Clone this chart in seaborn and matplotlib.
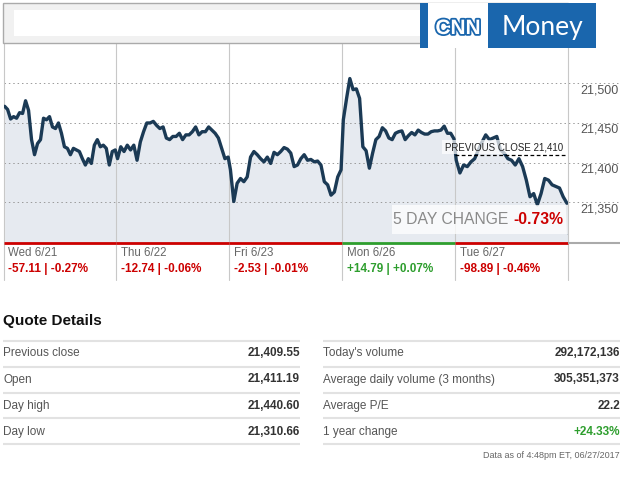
import numpy as np
import pandas as pd
import matplotlib
matplotlib.use("Agg")
import matplotlib.pyplot as plt
from matplotlib.patches import Rectangle
from matplotlib import patheffects
from matplotlib.transforms import blended_transform_factory, offset_copy
import seaborn as sns

# --- data ---
day_labels = ["Wed 6/21", "Thu 6/22", "Fri 6/23", "Mon 6/26", "Tue 6/27"]
day_changes = ["-57.11 | -0.27%", "-12.74 | -0.06%", "-2.53 | -0.01%", "+14.79 | +0.07%", "-98.89 | -0.46%"]
day_up = [False, False, False, True, False]

wed = [21471, 21467, 21455, 21458, 21456, 21463, 21462, 21478, 21466, 21429, 21410, 21424, 21429,
       21456, 21454, 21458, 21445, 21443, 21450, 21437, 21420, 21418, 21410, 21418, 21416, 21414,
       21405, 21397, 21405, 21399, 21422, 21429, 21420, 21422, 21418, 21397, 21414, 21416]
thu = [21405, 21420, 21414, 21422, 21416, 21422, 21403, 21426, 21439, 21450, 21450, 21452, 21447,
       21443, 21445, 21431, 21429, 21433, 21433, 21437, 21429, 21435, 21435, 21439, 21445, 21435,
       21439, 21439, 21445, 21441, 21437, 21431, 21418, 21405, 21407]
fri = [21391, 21351, 21374, 21380, 21376, 21382, 21407, 21414, 21410, 21405, 21401, 21407, 21399,
       21413, 21410, 21414, 21419, 21417, 21412, 21395, 21397, 21405, 21410, 21403, 21404, 21401,
       21402, 21397, 21376, 21372, 21359, 21363, 21382, 21391]
mon = [21454, 21481, 21506, 21492, 21493, 21481, 21420, 21415, 21393, 21412, 21429, 21433, 21444,
       21440, 21431, 21429, 21437, 21439, 21440, 21429, 21434, 21438, 21435, 21441, 21438, 21436,
       21436, 21439, 21440, 21440, 21441, 21446, 21437, 21437, 21430]
tue = [21403, 21387, 21397, 21395, 21401, 21405, 21416, 21426, 21435, 21429, 21431, 21433, 21416,
       21412, 21405, 21403, 21397, 21405, 21395, 21378, 21357, 21361, 21347, 21361, 21380, 21378,
       21372, 21370, 21368, 21357, 21349]
after_hours_close = 21310.66
previous_close = 21409.55
five_day_change = "-0.73%"

y_ticks = [21350, 21400, 21450, 21500]
y_tick_labels = ["21,350", "21,400", "21,450", "21,500"]
y_range = (21298.7, 21550.8)

quote_left_labels = ["Previous close", "Open", "Day high", "Day low"]
quote_left_values = ["21,409.55", "21,411.19", "21,440.60", "21,310.66"]
quote_right_labels = ["Today's volume", "Average daily volume (3 months)", "Average P/E", "1 year change"]
quote_right_values = ["292,172,136", "305,351,373", "22.2", "+24.33%"]
data_stamp = "Data as of 4:48pm ET, 06/27/2017"

RED = "#cc0000"
GREEN = "#2e9e2e"
NAVY = "#1b3a55"
FILL = "#e6eaf0"
BLUE = "#1a66ad"

sns.set_style("white")
plt.rcParams["font.family"] = ["Liberation Sans", "DejaVu Sans"]

W, H = 638, 483
fig = plt.figure(figsize=(W / 100, H / 100), dpi=100)


def px_box(x0, y0, x1, y1):
    return [x0 / W, 1 - y1 / H, (x1 - x0) / W, (y1 - y0) / H]


ax = fig.add_axes(px_box(3.5, 43, 568, 243), zorder=2)

frames = []
for i, prices in enumerate([wed, thu, fri, mon, tue]):
    frames.append(pd.DataFrame({"t": np.linspace(i + 0.01, i + 0.99, len(prices)), "price": prices}))
df = pd.concat(frames, ignore_index=True)
t_end = len(day_labels)

ylo, yhi = y_range
ax.fill_between(np.append(df["t"], t_end), np.append(df["price"], after_hours_close), ylo,
                color=FILL, lw=0, zorder=0.5)
sns.lineplot(data=df, x="t", y="price", color=NAVY, lw=2.4, estimator=None, ax=ax, zorder=4)
ax.plot([df["t"].iloc[-1], t_end], [df["price"].iloc[-1], after_hours_close], color="#9aa6b3", lw=1.6, zorder=3)

ax.set_xlim(0, t_end)
ax.set_ylim(ylo, yhi)
ax.set_xticks([])
ax.set_yticks([])
ax.set_xlabel("")
ax.set_ylabel("")
sns.despine(ax=ax, left=True, bottom=True)

# grid
x_px = 564.5
for v in y_ticks:
    ax.axhline(v, xmin=0, xmax=(618 - 3.5) / x_px, clip_on=False, color="#9a9a9a", lw=0.7,
               ls=(0, (1.5, 3)), zorder=1)
for d in range(t_end + 1):
    ax.axvline(d, ymin=-0.185, ymax=1, clip_on=False, color="#c8c8c8", lw=0.8, zorder=1)

ylab_tr = offset_copy(blended_transform_factory(ax.transAxes, ax.transData), fig=fig, y=-7, units="dots")
for v, lab in zip(y_ticks, y_tick_labels):
    ax.text((580 - 3.5) / x_px, v, lab, transform=ylab_tr, ha="left", va="center", fontsize=9, color="#555555")

# day strip at the bottom
for i, up in enumerate(day_up):
    ax.plot([i, i + 1], [ylo, ylo], color=GREEN if up else RED, lw=2, clip_on=False,
            solid_capstyle="butt", zorder=5)
ax.plot([t_end, t_end + (620 - 568) / (x_px / t_end)], [ylo, ylo], color="#aaaaaa", lw=1.5,
        clip_on=False, solid_capstyle="butt", zorder=5)

day_tr = offset_copy(blended_transform_factory(ax.transData, ax.transAxes), fig=fig, x=5, units="dots")
for i, (lab, chg, up) in enumerate(zip(day_labels, day_changes, day_up)):
    ax.text(i, -0.05, lab, transform=day_tr, ha="left", va="center", fontsize=8.3, color="#666666")
    ax.text(i, -0.128, chg, transform=day_tr, ha="left", va="center", fontsize=8.5,
            weight="bold", color=GREEN if up else RED)

# previous close marker
ax.plot([4, t_end], [previous_close, previous_close], color="black", lw=0.9, ls=(0, (3, 2)), zorder=5)
pc_tr = offset_copy(ax.transData, fig=fig, x=-5, y=8, units="dots")
ax.text(t_end, previous_close, "PREVIOUS CLOSE 21,410", transform=pc_tr, ha="right", va="center",
        fontsize=7, color="#222222", zorder=6,
        bbox=dict(facecolor="white", alpha=0.7, edgecolor="none", boxstyle="square,pad=0.25"))

# 5 day change box
ax.add_patch(Rectangle((0.688, 0.045), 0.312, 0.145, transform=ax.transAxes, facecolor="white",
                       alpha=0.75, edgecolor="none", zorder=6))
ax.text(0.894, 0.117, "5 DAY CHANGE", transform=ax.transAxes, ha="right", va="center", fontsize=11.3,
        color="#8a8a8a", zorder=7)
ax.text(0.991, 0.117, five_day_change, transform=ax.transAxes, ha="right", va="center", fontsize=11.3,
        weight="bold", color=RED, zorder=7)

# overlay in pixel coordinates for header and quote table
ov = fig.add_axes([0, 0, 1, 1], zorder=3)
ov.set_xlim(0, W)
ov.set_ylim(H, 0)
ov.axis("off")
ov.patch.set_alpha(0)

ov.add_patch(Rectangle((3, 3), 565, 40, facecolor="#f1f1f1", edgecolor="#aaaaaa", lw=1))
ov.add_patch(Rectangle((14, 10), 406, 26, facecolor="white", edgecolor="none"))
ov.add_patch(Rectangle((420, 3), 8, 45, facecolor=BLUE, edgecolor="none"))
ov.add_patch(Rectangle((428, 3), 60, 45, facecolor="white", edgecolor="none"))
ov.add_patch(Rectangle((488, 3), 108, 45, facecolor=BLUE, edgecolor="none"))
ov.text(458, 34, "CNN", ha="center", va="baseline", fontsize=15, weight="bold",
        family=["Liberation Sans"], color="white",
        path_effects=[patheffects.Stroke(linewidth=2.6, foreground=BLUE), patheffects.Normal()])
ov.text(542, 35, "Money", ha="center", va="baseline", fontsize=19, weight="normal",
        family=["Lato", "Liberation Sans"], color="white")

ov.text(3, 325, "Quote Details", ha="left", va="baseline", fontsize=11, weight="bold", color="#111111")

row_y = [353.3, 379.5, 405.8, 432]
sep_y = [340.7, 366.7, 392.5, 418.3, 444]
for x0, x1 in [(3, 300), (323, 620)]:
    for y in sep_y:
        ov.plot([x0, x1], [y, y], color="#e2e2e2", lw=1.5, solid_capstyle="butt")

for y, lab, val in zip(row_y, quote_left_labels, quote_left_values):
    ov.text(3, y, lab, ha="left", va="center", fontsize=8.5, color="#555555")
    ov.text(300, y, val, ha="right", va="center", fontsize=8.5, weight="bold", color="#333333")
for y, lab, val in zip(row_y, quote_right_labels, quote_right_values):
    ov.text(323, y, lab, ha="left", va="center", fontsize=8.5, color="#555555")
    ov.text(620, y, val, ha="right", va="center", fontsize=8.5, weight="bold",
            color=GREEN if val.startswith("+") else "#333333")

ov.text(620, 456, data_stamp, ha="right", va="center", fontsize=6.5, color="#666666")

fig.savefig("out.png", dpi=100, facecolor="white")
